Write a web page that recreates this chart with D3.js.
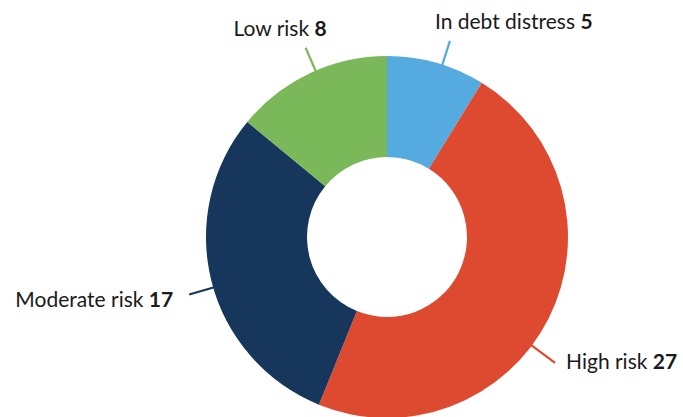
<!DOCTYPE html>
<html>
<head>
<meta charset="utf-8">
<script src="https://cdn.jsdelivr.net/npm/d3@7"></script>
<style>
  html, body { margin: 0; padding: 0; background: #fff; }
  svg { display: block; }
  text { font-family: Lato, "Open Sans", sans-serif; fill: #1a1a1a; }
</style>
</head>
<body>
<svg id="chart" width="683" height="417"></svg>
<script>
// Risk-of-debt-distress ratings, clockwise from the top
const categories = ["In debt distress", "High risk", "Moderate risk", "Low risk"];
const counts = [5, 27, 17, 8];
const colors = ["#55aadf", "#de4a30", "#16365c", "#7bb85a"];

// Label layout: angle nudge (degrees) for the leader line, and text offset from its end
const labelNudge = [2, 10, -2, 2];
const labelOffset = [[-15, -12, "start"], [11, 6, "start"], [-16, 12, "end"], [21, -12, "end"]];

const width = 683, height = 417;
const cx = 387, cy = 237;
const outerR = 181, innerR = 80;

const svg = d3.select("#chart");
const g = svg.append("g").attr("transform", `translate(${cx},${cy})`);

const data = categories.map((c, i) => ({ name: c, value: counts[i], color: colors[i], i }));

const pie = d3.pie().value(d => d.value).sort(null);
const arc = d3.arc().innerRadius(innerR).outerRadius(outerR);
const arcs = pie(data);

g.selectAll("path.slice")
  .data(arcs)
  .join("path")
  .attr("class", "slice")
  .attr("d", arc)
  .attr("fill", d => d.data.color);

// Leader lines and labels
arcs.forEach(a => {
  const i = a.data.i;
  const mid = (a.startAngle + a.endAngle) / 2 + labelNudge[i] * Math.PI / 180;
  const r0 = outerR - 2, r1 = outerR + (i === 1 ? 29 : 25);
  const x0 = Math.sin(mid) * r0, y0 = -Math.cos(mid) * r0;
  const x1 = Math.sin(mid) * r1, y1 = -Math.cos(mid) * r1;
  g.append("line")
    .attr("x1", x0).attr("y1", y0)
    .attr("x2", x1).attr("y2", y1)
    .attr("stroke", a.data.color)
    .attr("stroke-width", 2.2);

  const [dx, dy, anchor] = labelOffset[i];
  const t = g.append("text")
    .attr("x", x1 + dx)
    .attr("y", y1 + dy)
    .attr("text-anchor", anchor)
    .style("font-size", "21px");
  t.append("tspan").text(a.data.name + " ");
  t.append("tspan").attr("font-weight", "bold").text(a.data.value);
});
</script>
</body>
</html>
